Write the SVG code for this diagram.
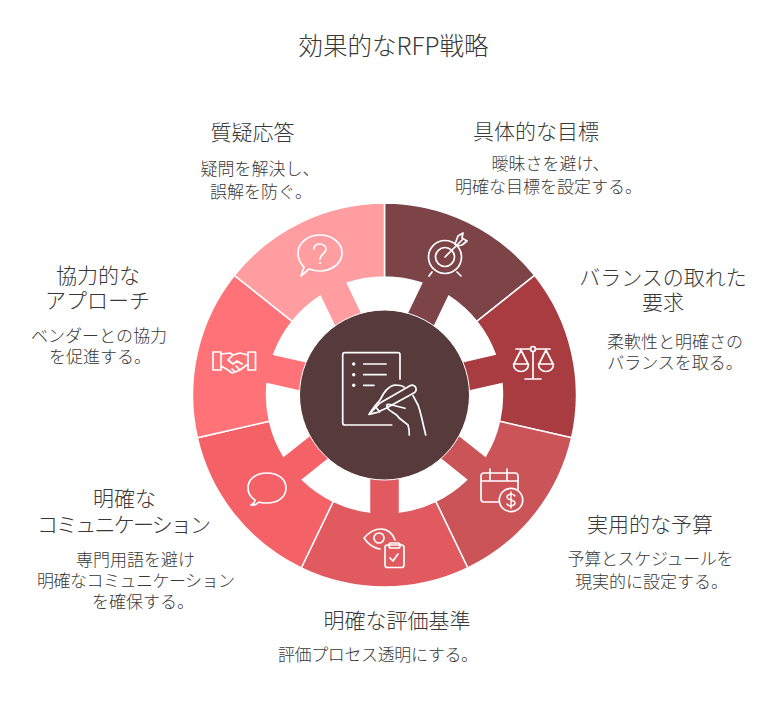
<svg xmlns="http://www.w3.org/2000/svg" width="768" height="725" viewBox="0 0 768 725">
<style>
text{font-family:"Noto Sans CJK JP","Noto Sans",sans-serif;font-weight:300;fill:#383838;text-anchor:middle}
.t{font-size:24.5px}.h{font-size:21px}.b{font-size:17px}
.sec{stroke:#fff;stroke-width:1.5}
.ic{fill:none;stroke:#fff;stroke-width:1.7;stroke-linecap:round;stroke-linejoin:round}
.dot{fill:#fff}
</style>
<defs>
<path id="sector" d="M0,-192A192,192 0 0 1 150.1,-119.7L92.26,-73.57A118,118 0 0 0 64.3,-98.94L47.36,-63.77L20.32,-76.79L37.26,-111.96A118,118 0 0 0 0,-118Z"/>
</defs>
<rect width="768" height="725" fill="#fff"/>
<text class="t" x="393.500" y="55">効果的なRFP戦略</text>
<g id="connectors"></g>
<g id="node-goal">
<use href="#sector" class="sec" fill="#7D4447" transform="translate(384.500 395) rotate(0)"/>
<g class="ic"><circle cx="445" cy="257" r="16.500"/><circle cx="445" cy="257" r="9.500"/><path d="M445,257L462,240M455,244L458,236L463,233L462,238L467,241L462,245L457,246M432,272L429,276M457,272L461,276"/></g>
<text class="h" x="536" y="139">具体的な目標</text>
<text class="b" x="550.500" y="170">曖昧さを避け、</text>
<text class="b" x="548.500" y="192.500">明確な目標を設定する。</text>
</g>
<g id="node-balance">
<use href="#sector" class="sec" fill="#A83C40" transform="translate(384.500 395) rotate(51.43)"/>
<g class="ic"><circle cx="533" cy="349" r="2.500"/><path d="M516,349H530.500M535.500,349H550M533,351.500V378M525,379H541M521,350L514,364M521,350L528,364M513.500,364H528.500C528.500,374 513.500,374 513.500,364ZM546,350L539,364M546,350L553,364M538.500,364H553.500C553.500,374 538.500,374 538.500,364Z"/></g>
<text class="h" x="663" y="285">バランスの取れた</text>
<text class="h" x="663" y="310">要求</text>
<text class="b" x="675" y="348">柔軟性と明確さの</text>
<text class="b" x="675" y="369">バランスを取る。</text>
</g>
<g id="node-budget">
<use href="#sector" class="sec" fill="#CB5458" transform="translate(384.500 395) rotate(102.86)"/>
<g class="ic"><path d="M499,502H484C482,502 481,501 481,499V476C481,474 482,473 484,473H515C517,473 518,474 518,476V489M481,481H518M490,469V480M507,469V480"/><circle cx="511" cy="500" r="11.700"/><path d="M515,496C513,493 507,494 507,497C507,501 515,499 515,503C515,506 509,507 507,504M511,492V508" stroke-width="1.400"/></g>
<text class="h" x="650" y="532">実用的な予算</text>
<text class="b" x="650.500" y="565" textLength="166">予算とスケジュールを</text>
<text class="b" x="651.500" y="588">現実的に設定する。</text>
</g>
<g id="node-eval">
<use href="#sector" class="sec" fill="#E05A5F" transform="translate(384.500 395) rotate(154.29)"/>
<g class="ic"><path d="M364,538C370,531 376,529 381,529C388,529 393,534 395,540M364,538C368,544 374,548 380,549"/><circle cx="379" cy="538" r="5"/><rect x="385" y="545" width="19" height="22.500" rx="2.500"/><rect x="389" y="543" width="11" height="5" rx="2"/><path d="M390,558L393,561L398,554"/></g>
<text class="h" x="397" y="628">明確な評価基準</text>
<text class="b" x="378" y="660.500" textLength="200">評価プロセス透明にする。</text>
</g>
<g id="node-comm">
<use href="#sector" class="sec" fill="#F46268" transform="translate(384.500 395) rotate(205.71)"/>
<g class="ic"><path d="M255,500C250,497 248,493 248,488C248,479 256,473 267,473C278,473 286,479 286,488C286,497 278,503 267,503C264,503 261,503 259,502C257,504 254,506 251,505C253,504 255,502 255,500Z"/></g>
<text class="h" x="124.500" y="506">明確な</text>
<text class="h" x="124" y="532" textLength="174">コミュニケーション</text>
<text class="b" x="135.500" y="566">専門用語を避け</text>
<text class="b" x="136" y="587" textLength="198">明確なコミュニケーション</text>
<text class="b" x="143" y="608">を確保する。</text>
</g>
<g id="node-collab">
<use href="#sector" class="sec" fill="#FF7378" transform="translate(384.500 395) rotate(257.14)"/>
<g class="ic"><path d="M213,352H221V370H213ZM248,352H255.500V370H248ZM221,354L230,353L233,355L240,353L248,355M221,366L228,370L232,373L235,372L240,370L248,364M233,355L228,360L233,364L237,361L242,364M235,372L232,369M240,370L236,366"/></g>
<text class="h" x="98" y="283">協力的な</text>
<text class="h" x="97.500" y="308">アプローチ</text>
<text class="b" x="99" y="342">ベンダーとの協力</text>
<text class="b" x="100" y="363">を促進する。</text>
</g>
<g id="node-qa">
<use href="#sector" class="sec" fill="#FF9DA0" transform="translate(384.500 395) rotate(308.57)"/>
<g class="ic"><path d="M304,267C300,263 298,258 298,253C298,243 308,235 320,235C332,235 342,243 342,253C342,263 332,271 320,271C316,271 312,270 309,269L301,276Z"/><path d="M314,249C314,245 317,244 320,244C323,244 326,246 326,249C326,254 320,254 320,259"/></g>
<circle class="dot" cx="320" cy="263" r="1.100"/>
<text class="h" x="252.500" y="140">質疑応答</text>
<text class="b" x="260" y="175">疑問を解決し、</text>
<text class="b" x="261" y="198">誤解を防ぐ。</text>
</g>
<g id="node-center">
<circle cx="384.500" cy="395" r="85" fill="#573A3B" stroke="#fff" stroke-width="1"/>
<g class="ic"><path d="M391.700,425H345C343.500,425 342.700,424 342.700,423V355C342.700,353.500 343.500,352.700 345,352.700H398C399.500,352.700 400,353.500 400,355V379M363.700,364H386M363.700,374.700H386M363.700,385.300H374"/><path d="M369,414.300L375,405.700L380,400C384,392 388,386 395,385C399,385 402,385.500 404,387M380,403L409.500,386C412,384.500 415,385 416,388C416.500,390.500 415,392.500 413.300,393.300L386,408.300L377.300,412.300L369,414.300ZM375,405.700L379.500,412"/><path d="M387,406.500C386,404.500 388,404 390,404.500L405,408.300M387,408C390,411 394,413 396.700,415C398,417 400,419 401.700,420L408,425C409,428 409.300,431 409.300,435M413,395.700L418,405C420,410 421,415 421.700,418L425.700,435"/></g>
<circle class="dot" cx="353.700" cy="364" r="1.700"/><circle class="dot" cx="353.700" cy="374.700" r="1.700"/><circle class="dot" cx="353.700" cy="385.300" r="1.700"/>
</g>
</svg>
